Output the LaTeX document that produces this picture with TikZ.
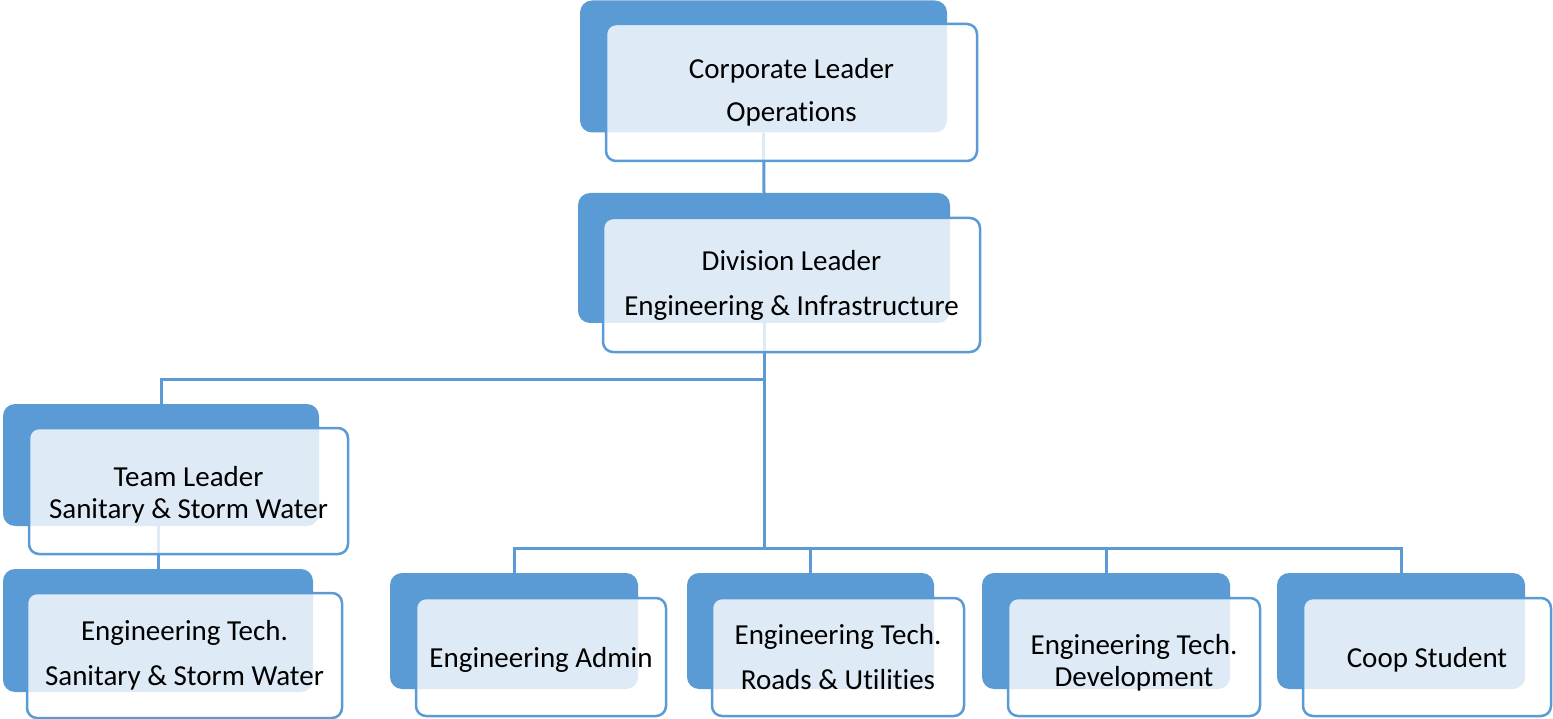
\documentclass[tikz,border=0pt]{standalone}
\usepackage{fontspec}
\setmainfont[RawFeature={-liga;-clig;-calt;-dlig}]{Carlito}
\definecolor{obl}{HTML}{5B9BD5}
\begin{document}
\begin{tikzpicture}[x=1pt,y=-1pt,
  backbox/.style={fill=obl, draw=none, rounded corners=12pt, inner sep=0pt},
  frontbox/.style={fill=white, fill opacity=0.8, text opacity=1, draw=obl, line width=2.5pt,
     rounded corners=10pt, inner sep=0pt, align=center, text=black,
     font=\fontsize{29}{32}\selectfont},
  conn/.style={draw=obl, line width=3pt}]
\useasboundingbox (0,0) rectangle (1553,719);
% back boxes
\node[backbox, minimum width=367pt, minimum height=132pt] (corpB) at (763.5,66.5) {};
\node[backbox, minimum width=372pt, minimum height=130pt] (divB) at (764,258) {};
\node[backbox, minimum width=316pt, minimum height=122pt] (tlB) at (161,465) {};
\node[backbox, minimum width=310pt, minimum height=123pt] (etsB) at (158,630.5) {};
\node[backbox, minimum width=248pt, minimum height=116pt] (adminB) at (514,631) {};
\node[backbox, minimum width=247pt, minimum height=116pt] (roadsB) at (810.5,631) {};
\node[backbox, minimum width=248pt, minimum height=116pt] (devB) at (1106,631) {};
\node[backbox, minimum width=248pt, minimum height=116pt] (coopB) at (1401,631) {};
% junctions
\coordinate (jT) at (764,379);
\coordinate (jL) at (764,548);
% connectors
\draw[conn] (corpB.south) -- (divB.north);
\draw[conn] (divB.south) -- (jL);
\draw[conn] (jT) -| (tlB.north);
\draw[conn] (etsB.north |- tlB.south) -- (etsB.north);
\draw[conn] (jL) -| (adminB.north);
\draw[conn] (jL) -| (roadsB.north);
\draw[conn] (jL) -| (devB.north);
\draw[conn] (jL) -| (coopB.north);
% front boxes
\node[frontbox, minimum width=371pt, minimum height=137pt] (corp) at (791.5,92.5) {Corporate Leader\\[11pt]Operations};
\node[frontbox, minimum width=377pt, minimum height=134pt] (div) at (791.5,285) {Division Leader\\[13pt]Engineering \& Infrastructure};
\node[frontbox, minimum width=319pt, minimum height=126pt] (tl) at (188.5,491) {\rule{0pt}{27pt}Team Leader\\Sanitary \& Storm Water};
\node[frontbox, minimum width=315pt, minimum height=125pt] (ets) at (184.5,655.5) {Engineering Tech.\\[13pt]Sanitary \& Storm Water};
\node[frontbox, minimum width=250pt, minimum height=118pt] (admin) at (541,657) {\rule{0pt}{25pt}Engineering Admin};
\node[frontbox, minimum width=252pt, minimum height=118pt] (roads) at (838,657) {Engineering Tech.\\[13pt]Roads \& Utilities};
\node[frontbox, minimum width=252pt, minimum height=118pt] (dev) at (1134,657) {\rule{0pt}{31pt}Engineering Tech.\\Development};
\node[frontbox, minimum width=248pt, minimum height=118pt] (coop) at (1427,657) {\rule{0pt}{25pt}Coop Student};
\end{tikzpicture}
\end{document}
